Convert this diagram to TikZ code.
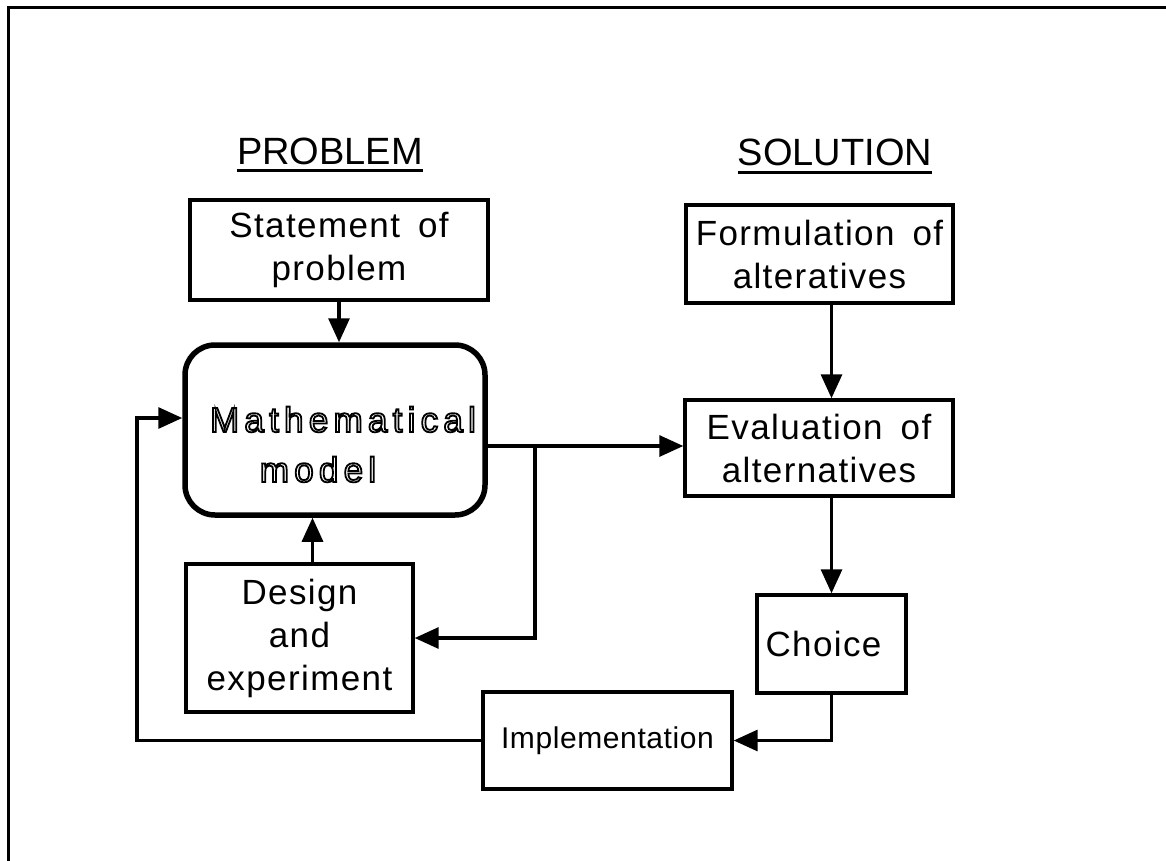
\documentclass[tikz,border=0pt]{standalone}
\usepackage{fontspec}
\setmainfont{Liberation Sans}
\newfontfamily\bodyfont[LetterSpace=4]{Liberation Sans}
\newfontfamily\mmfont[LetterSpace=15]{Liberation Sans}
\newfontfamily\implfont[LetterSpace=2]{Liberation Sans}
\usetikzlibrary{arrows.meta,calc}
\newcommand\outlinetext[1]{\special{pdf:literal direct 1 Tr 1.8 w}#1\special{pdf:literal direct 0 Tr 0.3985 w}}
\tikzset{
  box/.style={draw, line width=3.4pt, inner sep=0pt, align=center,
    font=\fontsize{35}{43}\selectfont\bodyfont},
  mbox/.style={draw, line width=5.5pt, rounded corners=30pt, inner sep=0pt},
  mtext/.style={inner sep=0pt, anchor=base, font=\fontsize{35}{40}\selectfont\mmfont},
  title/.style={inner sep=0pt, anchor=base, font=\fontsize{38}{40}\selectfont},
  uline/.style={line width=3pt},
  frame/.style={line width=3pt},
  conn/.style={line width=3.2pt},
  arr/.style={conn, -{Triangle[length=24pt,width=21pt]}},
}
\begin{document}
\begin{tikzpicture}[x=1pt,y=-1pt]
\useasboundingbox (0,0) rectangle (1166,861);
% frame
\coordinate (ftl) at (8,8);
\coordinate (ftr) at (1166,8);
\coordinate (fbl) at (8,861);
\draw[frame] (ftr) -- (ftl) -- (fbl);
% titles
\node[title] (pt) at (330,165) {PROBLEM};
\draw[uline] ($(pt.base west)+(0,6)$) -- ($(pt.base east)+(0,6)$);
\node[title] (stt) at (835,166) {SOLUTION};
\draw[uline] ($(stt.base west)+(0,7)$) -- ($(stt.base east)+(0,7)$);
% boxes
\node[box, minimum width=298pt, minimum height=100pt] (st) at (339,250)
  {Statement\hspace{18pt}of\\problem};
\node[mbox, minimum width=300pt, minimum height=170pt] (mm) at (335,430) {};
\node[mtext] (mm1) at (343,432) {\outlinetext{Mathematical}};
\node[mtext] (mm2) at (318,482) {\outlinetext{model}};
\node[box, minimum width=227pt, minimum height=148pt] (de) at (299.5,638)
  {Design\\and\\experiment};
\node[box, minimum width=267pt, minimum height=98pt] (fo) at (819.5,254)
  {Formulation\hspace{18pt}of\\alteratives};
\node[box, minimum width=268pt, minimum height=96pt] (ev) at (819,448)
  {Evaluation\hspace{18pt}of\\alternatives};
\node[box, minimum width=149pt, minimum height=98pt] (ch) at (831.5,644)
  {Choice\hspace*{16pt}};
\node[box, minimum width=249pt, minimum height=97pt,
  font=\fontsize{30}{34}\selectfont\implfont] (im) at (607.5,740.5)
  {Implementation};
% connectors
\draw[arr] (st.south) -- (st.south |- mm.north);
\draw[arr] (ch.north |- fo.south) -- (ch.north |- ev.north);
\draw[arr] (ch.north |- ev.south) -- (ch.north);
\draw[arr] (ch.south) |- (im.east);
\coordinate (fbk) at (137,418);
\draw[arr] (im.west) -| (fbk) -- (fbk -| mm.west);
\coordinate (mmo) at ($(mm.east)+(0,16)$);
\draw[arr] (mmo) -- (mmo -| ev.west);
\coordinate (br) at (535,446);
\draw[arr] (br) |- (de.east);
\coordinate (deo) at ($(de.north)+(13,0)$);
\draw[arr] (deo) -- (deo |- mm.south);
\end{tikzpicture}
\end{document}
